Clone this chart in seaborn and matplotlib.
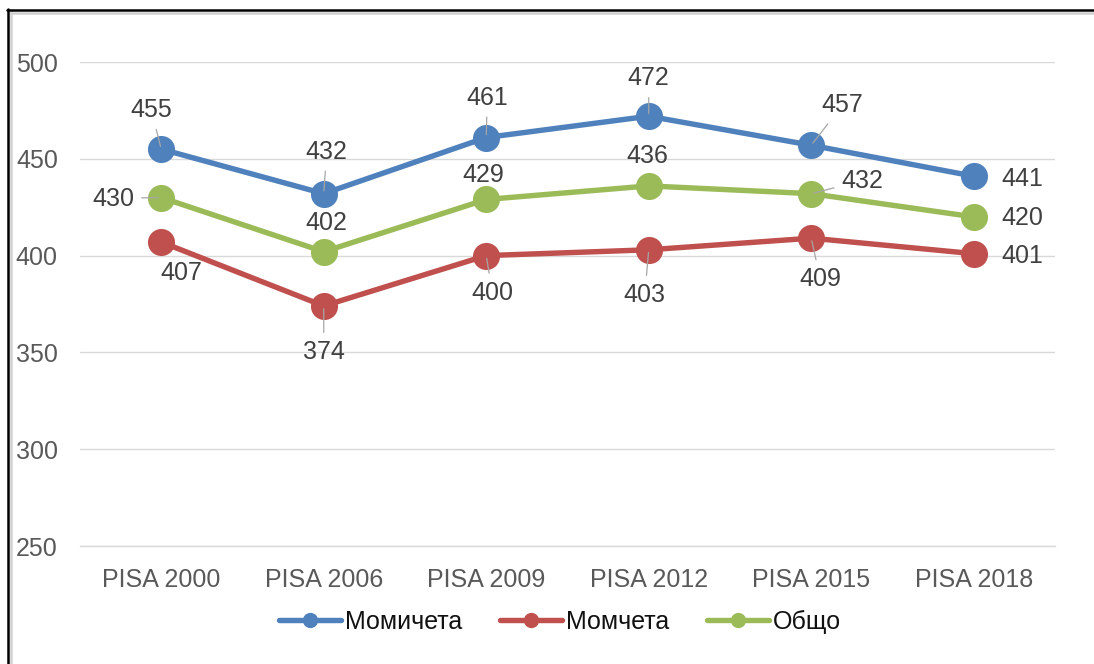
import matplotlib
matplotlib.use("Agg")
import matplotlib.pyplot as plt
from matplotlib.lines import Line2D
import seaborn as sns
import pandas as pd

categories = ["PISA 2000", "PISA 2006", "PISA 2009", "PISA 2012", "PISA 2015", "PISA 2018"]
girls = [455, 432, 461, 472, 457, 441]
boys = [407, 374, 400, 403, 409, 401]
total = [430, 402, 429, 436, 432, 420]
series_names = ["Момичета", "Момчета", "Общо"]
y_ticks = [250, 300, 350, 400, 450, 500]

colors = {"Момичета": "#4F81BD", "Момчета": "#C0504D", "Общо": "#9BBB59"}

df = pd.DataFrame({
    "cat": categories * 3,
    "value": girls + boys + total,
    "series": [series_names[0]] * 6 + [series_names[1]] * 6 + [series_names[2]] * 6,
})
df["cat"] = pd.Categorical(df["cat"], categories=categories, ordered=True)

sns.set_style("white")
plt.rcParams["font.family"] = ["Liberation Sans", "DejaVu Sans"]
FS = 18

fig = plt.figure(figsize=(10.94, 6.64), dpi=100)
W, H = 1094, 664
ax = fig.add_axes([80 / W, 1 - 546 / H, (1055 - 80) / W, (546 - 62) / H])

sns.lineplot(data=df, x="cat", y="value", hue="series", palette=colors,
             hue_order=series_names, marker="o", markersize=19.5, linewidth=3.9,
             markeredgewidth=0, sort=False, ax=ax, legend=False, zorder=3)

ax.set_xlim(-0.5, 5.5)
ax.set_ylim(250, 500)
ax.set_yticks(y_ticks)
ax.set_yticklabels([str(t) for t in y_ticks])
ax.set_xticks(range(len(categories)))
ax.set_xticklabels(categories)
ax.grid(axis="y", color="#d9d9d9", linewidth=1.0, zorder=0)
ax.grid(axis="x", visible=False)
for s in ["top", "right", "left"]:
    ax.spines[s].set_visible(False)
ax.spines["bottom"].set_color("#d9d9d9")
ax.spines["bottom"].set_linewidth(1.0)
ax.tick_params(axis="both", length=0, labelsize=FS, colors="#595959")
ax.tick_params(axis="y", pad=16)
ax.tick_params(axis="x", pad=16)
ax.set_xlabel("")
ax.set_ylabel("")

# label offsets in pixels (dx, dy up), and whether a leader line is drawn
px = 0.72
offsets = {
    "Момичета": [(-10, 39, True), (3, 42, True), (1, 40, True), (0, 38, True), (31, 40, True), (49, -3, False)],
    "Момчета": [(20, -31, False), (0, -46, True), (6, -37, True), (-4, -45, True), (9, -41, True), (49, -2, False)],
    "Общо": [(-48, -1, True), (3, 29, False), (-3, 24, False), (-1, 30, False), (51, 13, True), (49, -1, False)],
}
data_map = {"Момичета": girls, "Момчета": boys, "Общо": total}
for name in series_names:
    vals = data_map[name]
    for i, v in enumerate(vals):
        dx, dy, lead = offsets[name][i]
        kw = {}
        if lead:
            kw["arrowprops"] = dict(arrowstyle="-", color="#a6a6a6", lw=0.9,
                                    shrinkA=3, shrinkB=2)
        ax.annotate(str(v), xy=(i, v), xytext=(dx * px, dy * px), textcoords="offset points",
                    ha="center", va="center", fontsize=FS, color="#404040", zorder=5, **kw)

handles = [Line2D([0], [0], color=colors[n], lw=3.9, marker="o", markersize=11,
                  markeredgewidth=0) for n in series_names]
fig.legend(handles, series_names, loc="center", bbox_to_anchor=(560 / W, 1 - 622 / H),
           ncol=3, frameon=False, fontsize=FS, handlelength=2.5, handletextpad=0.15,
           columnspacing=1.5, labelcolor="#111111")

# figure border (top and left) with light shadow
fig.add_artist(Line2D([11 / W, 1], [1 - 12.5 / H] * 2, color="#d0d0d0", lw=1.8))
fig.add_artist(Line2D([10.5 / W] * 2, [0, 1 - 12 / H], color="#d0d0d0", lw=1.8))
fig.add_artist(Line2D([7 / W, 1], [1 - 9.5 / H] * 2, color="black", lw=1.8))
fig.add_artist(Line2D([7.5 / W] * 2, [0, 1 - 9 / H], color="black", lw=1.8))

fig.savefig("out.png", dpi=100)
